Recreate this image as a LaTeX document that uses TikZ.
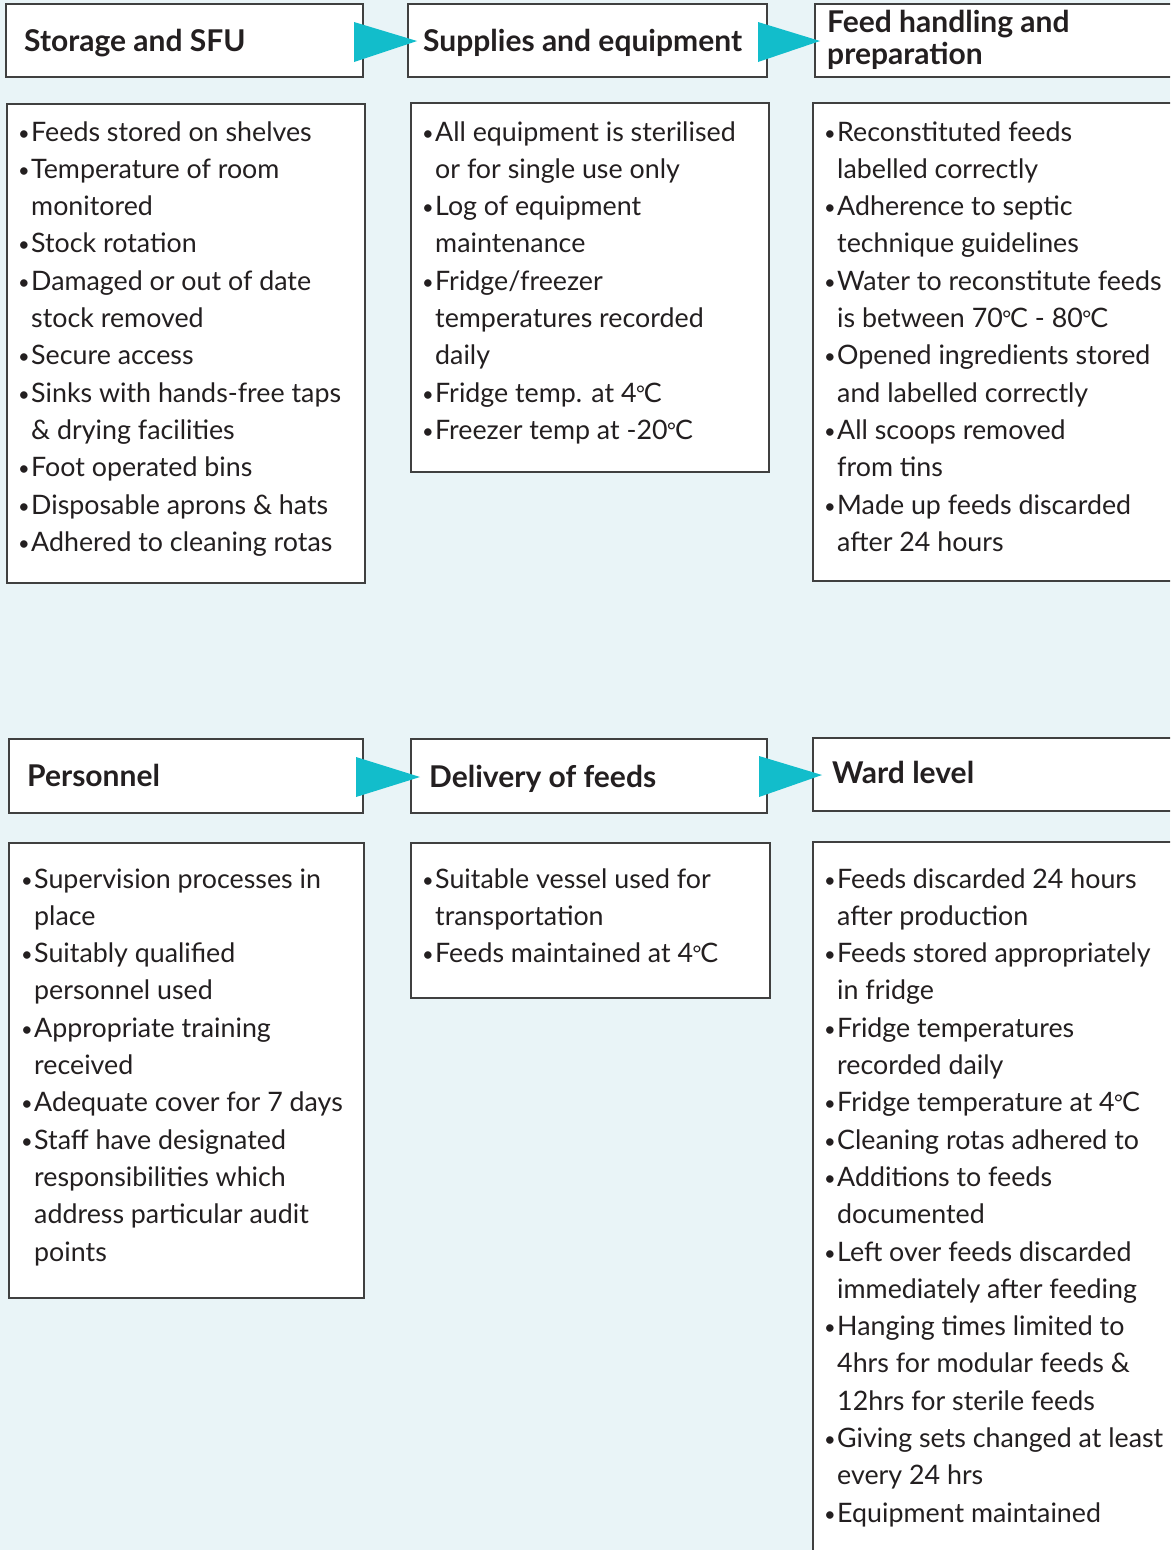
\documentclass[tikz,border=0pt]{standalone}
\usepackage{fontspec}
\usepackage{graphicx}
\setmainfont{Lato}
\usetikzlibrary{calc}
\definecolor{bgc}{HTML}{E9F4F7}
\definecolor{arrc}{HTML}{12BDCB}
\definecolor{edgec}{HTML}{404040}
\definecolor{txtc}{HTML}{231F20}
\newcommand\bu{\makebox[13pt][l]{\raisebox{1pt}{\scalebox{0.75}{\textbullet}}}}
\newcommand\ii{\hspace*{13pt}}
\newcommand\dg{\kern-0.5pt\raisebox{1pt}{\scalebox{0.8}{°}}\kern-1pt}
\tikzset{
  box/.style={draw=edgec, fill=white, line width=1.6pt, anchor=north west, inner sep=0pt, outer sep=0pt},
  headtext/.style={anchor=base west, inner sep=0pt, font=\fontsize{30}{33}\selectfont\bfseries, text=txtc, align=left},
  bodytext/.style={anchor=base west, inner sep=0pt, font=\fontsize{26.8}{37.3}\selectfont, text=txtc, align=left},
  tri/.style={fill=arrc, draw=none}
}
\begin{document}
\begin{tikzpicture}[x=1pt,y=-1pt]
\useasboundingbox (0,0) rectangle (1170,1550);
\fill[bgc] (0,0) rectangle (1170,1550);
\begin{scope}
\clip (0,0) rectangle (1170,1550);
% header boxes
\node[box, minimum width=357pt, minimum height=73pt] (h1) at (6,4) {};
\node[box, minimum width=359pt, minimum height=73pt] (h2) at (408,4) {};
\node[box, minimum width=400pt, minimum height=73pt] (h3) at (815,4) {};
\node[box, minimum width=354pt, minimum height=74pt] (h4) at (9,739) {};
\node[box, minimum width=356pt, minimum height=74pt] (h5) at (411,739) {};
\node[box, minimum width=400pt, minimum height=73pt] (h6) at (813,738) {};
% content boxes
\node[box, minimum width=358pt, minimum height=479pt] (c1) at (7,104) {};
\node[box, minimum width=358pt, minimum height=369pt] (c2) at (411,103) {};
\node[box, minimum width=400pt, minimum height=478pt] (c3) at (813,103) {};
\node[box, minimum width=355pt, minimum height=455pt] (c4) at (9,843) {};
\node[box, minimum width=359pt, minimum height=155pt] (c5) at (411,843) {};
\node[box, minimum width=400pt, minimum height=760pt] (c6) at (813,842) {};
% arrows
\fill[tri] ($(h1.north east)+(-9,18)$) -- ($(h1.north east)+(-9,58)$) -- ($(h2.north west)+(9,37)$) -- cycle;
\fill[tri] ($(h2.north east)+(-9,18)$) -- ($(h2.north east)+(-9,58)$) -- ($(h3.north west)+(5,37)$) -- cycle;
\fill[tri] ($(h4.north east)+(-7,18)$) -- ($(h4.north east)+(-7,58)$) -- ($(h5.north west)+(9,38)$) -- cycle;
\fill[tri] ($(h5.north east)+(-8,17)$) -- ($(h5.north east)+(-8,58)$) -- ($(h6.north west)+(9,37)$) -- cycle;
\end{scope}
% header texts (anchor base west = baseline of the last line)
\node[headtext] (t1) at (24,51) {Storage and SFU};
\node[headtext] (t2) at (423,51) {Supplies and equipment};
\node[headtext, font=\fontsize{30}{32}\selectfont\bfseries] (t3) at (827,64) {Feed handling and\\preparation};
\node[headtext] (t4) at (27,786) {Personnel};
\node[headtext] (t5) at (429,787) {Delivery of feeds};
\node[headtext] (t6) at (832,783) {Ward level};
% body texts
\node[bodytext] (b1) at (18,551.3) {\bu Feeds stored on shelves\\
\bu Temperature of room\\ \ii monitored\\
\bu Stock rotation\\
\bu Damaged or out of date\\ \ii stock removed\\
\bu Secure access\\
\bu Sinks with hands-free taps\\ \ii \& drying facilities\\
\bu Foot operated bins\\
\bu Disposable aprons \& hats\\
\bu Adhered to cleaning rotas};
\node[bodytext] (b2) at (422,439.4) {\bu All equipment is sterilised\\ \ii or for single use only\\
\bu Log of equipment\\ \ii maintenance\\
\bu Fridge/freezer\\ \ii temperatures recorded\\ \ii daily\\
\bu Fridge temp. at 4\dg C\\
\bu Freezer temp at -20\dg C};
\node[bodytext] (b3) at (824,551.3) {\bu Reconstituted feeds\\ \ii labelled correctly\\
\bu Adherence to septic\\ \ii technique guidelines\\
\bu Water to reconstitute feeds\\ \ii is between 70\dg C - 80\dg C\\
\bu Opened ingredients stored\\ \ii and labelled correctly\\
\bu All scoops removed\\ \ii from tins\\
\bu Made up feeds discarded\\ \ii after 24 hours};
\node[bodytext] (b4) at (21,1261) {\bu Supervision processes in\\ \ii place\\
\bu Suitably qualified\\ \ii personnel used\\
\bu Appropriate training\\ \ii received\\
\bu Adequate cover for 7 days\\
\bu Staff have designated\\ \ii responsibilities which\\ \ii address particular audit\\ \ii points};
\node[bodytext] (b5) at (422,962.6) {\bu Suitable vessel used for\\ \ii transportation\\
\bu Feeds maintained at 4\dg C};
\node[bodytext] (b6) at (824,1522.1) {\bu Feeds discarded 24 hours\\ \ii after production\\
\bu Feeds stored appropriately\\ \ii in fridge\\
\bu Fridge temperatures\\ \ii recorded daily\\
\bu Fridge temperature at 4\dg C\\
\bu Cleaning rotas adhered to\\
\bu Additions to feeds\\ \ii documented\\
\bu Left over feeds discarded\\ \ii immediately after feeding\\
\bu Hanging times limited to\\ \ii 4hrs for modular feeds \&\\ \ii 12hrs for sterile feeds\\
\bu Giving sets changed at least\\ \ii every 24 hrs\\
\bu Equipment maintained};
\end{tikzpicture}
\end{document}
